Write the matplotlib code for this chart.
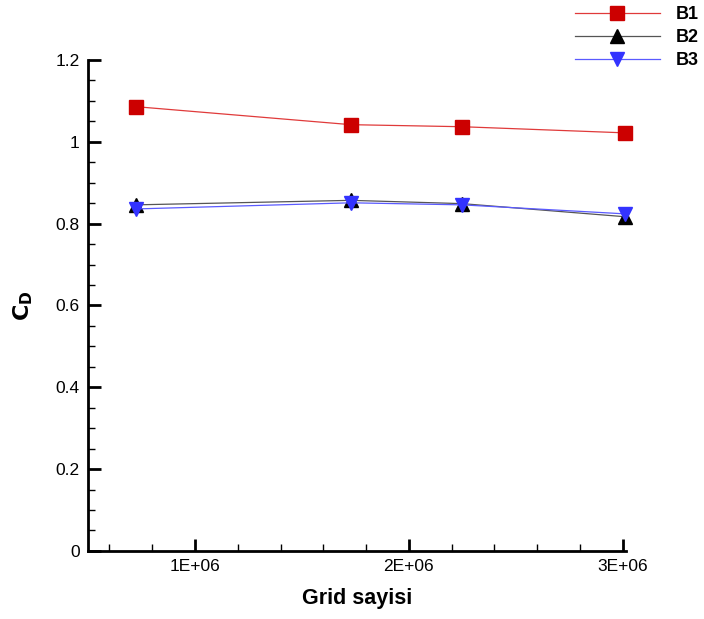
import numpy as np
import matplotlib.pyplot as plt
from matplotlib.ticker import MultipleLocator, FuncFormatter

plt.rcParams['font.family'] = ['Liberation Sans', 'DejaVu Sans']

# grid counts and drag coefficients
grid = [0.724e6, 1.729e6, 2.248e6, 3.009e6]
b1 = [1.086, 1.042, 1.037, 1.022]
b2 = [0.846, 0.857, 0.849, 0.817]
b3 = [0.836, 0.851, 0.846, 0.824]
labels = ['B1', 'B2', 'B3']

fig = plt.figure(figsize=(7.04, 6.19), dpi=100)
ax = fig.add_axes([0.125, 0.110, 0.764, 0.793])

ax.plot(grid, b1, color='#e03a3a', lw=0.9, marker='s', ms=10,
        mfc='#cc0000', mec='#cc0000', label=labels[0], clip_on=False)
ax.plot(grid, b2, color='#555555', lw=0.9, marker='^', ms=10,
        mfc='black', mec='black', label=labels[1], clip_on=False)
ax.plot(grid, b3, color='#5a5aff', lw=0.9, marker='v', ms=10,
        mfc='#3333ff', mec='#3333ff', label=labels[2], clip_on=False)

ax.set_xlim(0.5e6, 3.014e6)
ax.set_ylim(0, 1.2)
ax.xaxis.set_major_locator(MultipleLocator(1e6))
ax.xaxis.set_minor_locator(MultipleLocator(0.2e6))
ax.yaxis.set_major_locator(MultipleLocator(0.2))
ax.yaxis.set_minor_locator(MultipleLocator(0.05))
ax.xaxis.set_major_formatter(FuncFormatter(lambda v, p: '%dE+06' % round(v / 1e6)))
ax.yaxis.set_major_formatter(FuncFormatter(lambda v, p: ('%g' % round(v, 2))))

for s in ['top', 'right']:
    ax.spines[s].set_visible(False)
for s in ['left', 'bottom']:
    ax.spines[s].set_linewidth(2)
ax.tick_params(which='major', direction='in', length=9, width=2, labelsize=12.5, pad=6)
ax.tick_params(which='minor', direction='in', length=5, width=1)

ax.set_xlabel('Grid sayisi', fontsize=15.5, fontweight='bold', labelpad=10)
ax.set_ylabel(r'$\mathbf{C_D}$', fontsize=16, labelpad=15)

leg = ax.legend(loc='upper right', bbox_to_anchor=(1.011, 1.011), bbox_transform=fig.transFigure,
                frameon=False, handlelength=4.7, handletextpad=0.9, labelspacing=0.35,
                borderaxespad=0.3, prop={'weight': 'bold', 'size': 13})

fig.savefig('out.png', dpi=100)
